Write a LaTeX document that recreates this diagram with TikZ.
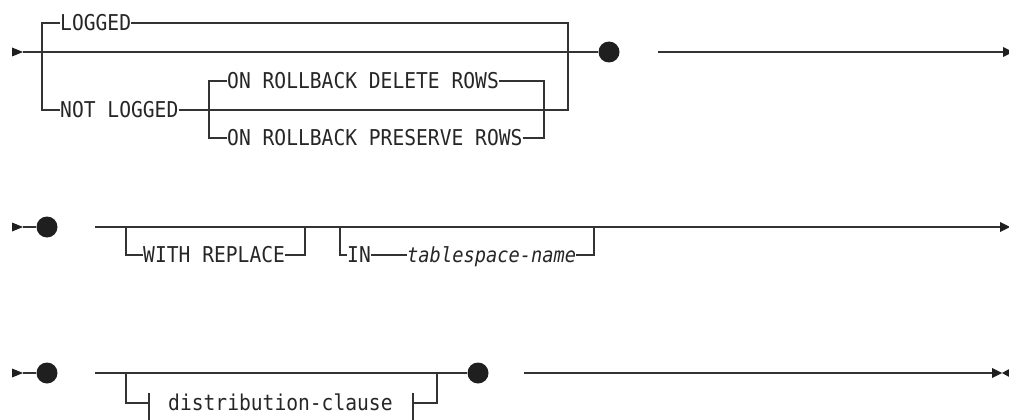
\documentclass[tikz,border=0pt]{standalone}
\usepackage{fontspec}
\setmonofont[FakeStretch=0.9]{DejaVu Sans Mono}
\begin{document}
\begin{tikzpicture}[x=1pt,y=-1pt,line cap=butt,line join=miter]
  \tikzset{rail/.style={line width=1.1pt,draw=black!80},
    kw/.style={inner sep=0pt,anchor=west,text=black!85,text height=15pt,text depth=0pt,font=\fontsize{21.8}{22}\selectfont\ttfamily},
    var/.style={kw,font=\fontsize{20.8}{22}\selectfont\ttfamily\itshape},
    stopdot/.style={circle,fill=black!88,inner sep=0pt,minimum size=21pt},
    tip/.style={fill=black!88}}
  \useasboundingbox (0,0) rectangle (1009,420);
  % first line
  \coordinate (s1) at (12,52); \coordinate (a1) at (23,52);
  \fill[tip] (s1) -- ++(0,-4.5) -- (a1) -- ++(-11,4.5) -- cycle;
  \node[kw] (logged) at (60,23) {LOGGED};
  \node[kw] (notlogged) at (60,110) {NOT LOGGED};
  \node[kw] (delrows) at (227,81) {ON ROLLBACK DELETE ROWS};
  \node[kw] (presrows) at (227,138) {ON ROLLBACK PRESERVE ROWS};
  \node[stopdot] (d1) at (609,52) {};
  \coordinate (r1) at (568,52); \coordinate (r2) at (544,110);
  \coordinate (e1) at (658,52); \coordinate (f1) at (1003,52);
  \draw[rail] (a1) -- (d1);
  \draw[rail] (logged.west) -- ++(-18,0) |- (notlogged.west);
  \draw[rail] (logged.east) -| (r1); \draw[rail] (notlogged.east) -| (r1);
  \draw[rail] (delrows.west) -- ++(-18,0) |- (presrows.west);
  \draw[rail] (delrows.east) -| (r2); \draw[rail] (presrows.east) -| (r2);
  \draw[rail] (e1) -- (f1); \fill[tip] (f1) -- ++(0,-5) -- ++(10,5) -- ++(-10,5) -- cycle;
  % second line
  \coordinate (s2) at (12,227); \coordinate (a2) at (23,227);
  \fill[tip] (s2) -- ++(0,-4.5) -- (a2) -- ++(-11,4.5) -- cycle;
  \node[stopdot] (d2) at (47,227) {};
  \draw[rail] (a2) -- (d2);
  \coordinate (b2) at (95,227); \coordinate (f2) at (1000,227);
  \coordinate (j1) at (126,227); \coordinate (j2) at (305,227);
  \coordinate (j3) at (340,227); \coordinate (j4) at (594,227);
  \node[kw] (withrepl) at (143,255) {WITH REPLACE};
  \node[kw] (in) at (347,255) {IN};
  \node[var] (tsname) at (407,255) {tablespace-name};
  \draw[rail] (b2) -- (f2); \fill[tip] (f2) -- ++(0,-5) -- ++(10,5) -- ++(-10,5) -- cycle;
  \draw[rail] (j1) |- (withrepl.west); \draw[rail] (withrepl.east) -| (j2);
  \draw[rail] (j3) |- (in.west); \draw[rail] (in.east) -- (tsname.west); \draw[rail] (tsname.east) -| (j4);
  % third line
  \coordinate (s3) at (12,373); \coordinate (a3) at (23,373);
  \fill[tip] (s3) -- ++(0,-4.5) -- (a3) -- ++(-11,4.5) -- cycle;
  \node[stopdot] (d3) at (47,373) {};
  \draw[rail] (a3) -- (d3);
  \coordinate (b3) at (95,373); \node[stopdot] (d4) at (478,373) {};
  \coordinate (j5) at (126,373); \coordinate (j6) at (437,373);
  \coordinate (t1) at (149,403); \coordinate (t2) at (413,403);
  \node[kw] (distcl) at (168,403) {distribution-clause};
  \draw[rail] (b3) -- (d4);
  \draw[rail] (j5) |- (t1); \draw[rail] (t2) -| (j6);
  \draw[rail] (t1) ++(0,-10) -- ++(0,32); \draw[rail] (t2) ++(0,-10) -- ++(0,32);
  \coordinate (e3) at (524,373); \coordinate (f3) at (992,373);
  \draw[rail] (e3) -- (f3);
  \fill[tip] (f3) -- ++(0,-5) -- ++(10,5) -- ++(-10,5) -- cycle;
  \fill[tip] (f3) ++(10,0) -- ++(9,-5) -- ++(0,10) -- cycle;
\end{tikzpicture}
\end{document}
